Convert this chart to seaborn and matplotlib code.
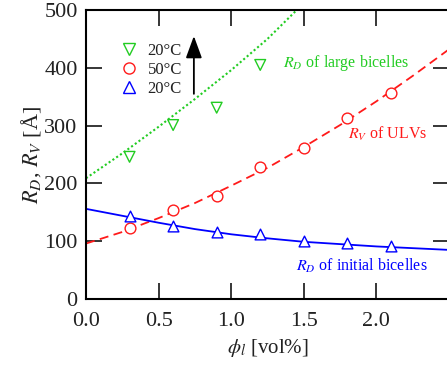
import numpy as np
import matplotlib
matplotlib.use("Agg")
import matplotlib.pyplot as plt
import seaborn as sns
from matplotlib.lines import Line2D

phi = [0.3, 0.6, 0.9, 1.2, 1.5, 1.8, 2.1]
rv_ulv = [123, 154, 178, 229, 262, 314, 356]          # 50 C, circulos rojos
rd_inicial = [144, 126, 116, 112, 101, 97, 92]         # 20 C, triangulos azules
phi_grande = [0.3, 0.6, 0.9, 1.2]
rd_grande = [246, 301, 331, 405]                        # 20 C, triangulos verdes

# curvas de ajuste
phi_fit = [0.0, 0.25, 0.5, 0.75, 1.0, 1.25, 1.5, 1.75, 2.0, 2.25, 2.5]
rv_fit = [96, 116, 140, 166, 196, 227, 263, 301, 342, 386, 432]
rd_ini_fit = [156, 144, 132, 121, 112, 105, 99, 95, 91, 88, 85]
phi_fit_g = [0.0, 0.25, 0.5, 0.75, 1.0, 1.25, 1.5]
rd_gr_fit = [209, 252, 298, 346, 396, 450, 512]

leyenda = ["20°C", "50°C", "20°C"]

verde = "#22cc22"
rojo = "#ff1a1a"
azul = "#0000ff"
texto = "#222222"

sns.set_style("ticks")
plt.rcParams["font.family"] = ["Liberation Serif", "DejaVu Serif"]
plt.rcParams["mathtext.fontset"] = "stix"

fig = plt.figure(figsize=(4.47, 3.66), dpi=100)
ax = fig.add_axes([0.1924, 0.183, 0.812, 0.7896])

sns.lineplot(x=phi_fit_g, y=rd_gr_fit, ax=ax, color=verde, lw=1.5, linestyle=(0, (1, 1.2)))
sns.lineplot(x=phi_fit, y=rv_fit, ax=ax, color=rojo, lw=1.3, linestyle=(0, (5, 3)))
sns.lineplot(x=phi_fit, y=rd_ini_fit, ax=ax, color=azul, lw=1.3)

sns.scatterplot(x=phi_grande, y=rd_grande, ax=ax, marker="v", s=60,
                facecolor="none", edgecolor=verde, linewidth=1.0, zorder=3)
sns.scatterplot(x=phi, y=rv_ulv, ax=ax, marker="o", s=60,
                facecolor="white", edgecolor=rojo, linewidth=1.0, zorder=3)
sns.scatterplot(x=phi, y=rd_inicial, ax=ax, marker="^", s=60,
                facecolor="white", edgecolor=azul, linewidth=1.0, zorder=3)

ax.set_xlim(0, 2.5)
ax.set_ylim(0, 500)
ax.set_xticks([0, 0.5, 1.0, 1.5, 2.0])
ax.set_xticklabels(["0.0", "0.5", "1.0", "1.5", "2.0"])
ax.set_yticks([0, 100, 200, 300, 400, 500])
ax.tick_params(direction="in", length=11.5, width=1.1, top=True, right=True,
               labelsize=16, color="black", labelcolor=texto)
ax.tick_params(axis="x", pad=9)
ax.tick_params(axis="y", pad=6)
for s in ax.spines.values():
    s.set_linewidth(1.5)
    s.set_color("black")

ax.set_xlabel(r"$\phi_l$ [vol%]", fontsize=15, color=texto, labelpad=5)
ax.set_ylabel(r"$R_D$, $R_V$ [Å]", fontsize=16, color=texto, labelpad=1)

# leyenda solo con simbolos
handles = [
    Line2D([], [], ls="", marker="v", mfc="none", mec=verde, ms=8),
    Line2D([], [], ls="", marker="o", mfc="none", mec=rojo, ms=8),
    Line2D([], [], ls="", marker="^", mfc="none", mec=azul, ms=8),
]
ax.legend(handles, leyenda, loc="upper left", bbox_to_anchor=(0.055, 0.938),
          frameon=False, fontsize=12, handlelength=1.0, handletextpad=0.6,
          labelspacing=0.18, labelcolor=texto)

ax.annotate("", xy=(0.743, 455), xytext=(0.743, 355),
            arrowprops=dict(arrowstyle="-|>,head_length=0.9,head_width=0.33",
                            color="black", lw=1.3, mutation_scale=15,
                            shrinkA=0, shrinkB=0))

ax.text(1.36, 408, r"$R_D$ of large bicelles", color=verde, fontsize=11.5, va="center")
ax.text(1.808, 285, r"$R_V$ of ULVs", color=rojo, fontsize=11.5, va="center")
ax.text(1.446, 57, r"$R_D$ of initial bicelles", color=azul, fontsize=11.5, va="center")

fig.savefig("out.png", dpi=100)
